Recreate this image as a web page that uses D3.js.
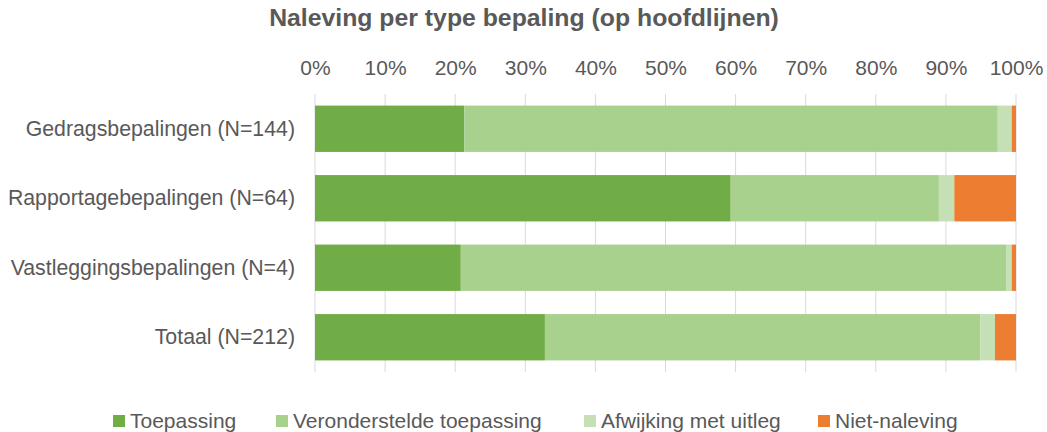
<!DOCTYPE html>
<html lang="nl">
<head>
  <meta charset="UTF-8">
  <title>Naleving per type bepaling</title>
  <script src="https://d3js.org/d3.v7.min.js"></script>
  <style>
    body { margin: 0; padding: 0; background: #fff; }
    svg { font-family: "Liberation Sans", Arial, sans-serif; }
    text { fill: #595959; }
  </style>
</head>
<body>
  <script>
    // Data (percentages)
    const categories = [
      "Gedragsbepalingen (N=144)",
      "Rapportagebepalingen (N=64)",
      "Vastleggingsbepalingen (N=4)",
      "Totaal (N=212)"
    ];
    const seriesNames = ["Toepassing", "Veronderstelde toepassing", "Afwijking met uitleg", "Niet-naleving"];
    const toepassing = [21.3, 59.3, 20.8, 32.8];
    const veronderstelde = [76.1, 29.7, 77.8, 62.1];
    const afwijking = [2.0, 2.2, 0.8, 2.1];
    const nietNaleving = [0.6, 8.8, 0.6, 3.0];
    const colors = ["#70AD47", "#A9D18E", "#C5E0B4", "#ED7D31"];
    const tickValues = [0, 10, 20, 30, 40, 50, 60, 70, 80, 90, 100];

    const width = 1047, height = 432;
    const margin = { top: 94, right: 31, bottom: 60, left: 315 };

    const svg = d3.select("body").append("svg")
      .attr("width", width)
      .attr("height", height);

    // Build rows for stacking
    const rows = categories.map((c, i) => ({
      cat: c,
      [seriesNames[0]]: toepassing[i],
      [seriesNames[1]]: veronderstelde[i],
      [seriesNames[2]]: afwijking[i],
      [seriesNames[3]]: nietNaleving[i]
    }));
    const stacked = d3.stack().keys(seriesNames)(rows);

    const x = d3.scaleLinear().domain([0, 100]).range([margin.left, width - margin.right]);
    const y = d3.scaleBand().domain(categories)
      .range([margin.top, height - margin.bottom])
      .paddingInner(0.333).paddingOuter(0.1667);

    // Title
    svg.append("text")
      .attr("x", 524).attr("y", 26)
      .attr("text-anchor", "middle")
      .style("font-size", "24.8px").style("font-weight", "bold")
      .text("Naleving per type bepaling (op hoofdlijnen)");

    // Gridlines
    svg.append("g")
      .selectAll("line")
      .data(tickValues)
      .join("line")
      .attr("x1", d => x(d)).attr("x2", d => x(d))
      .attr("y1", margin.top).attr("y2", height - margin.bottom)
      .attr("stroke", "#D9D9D9").attr("stroke-width", 1);

    // Top axis labels
    const xAxis = d3.axisTop(x).tickValues(tickValues).tickFormat(d => d + "%").tickSize(0).tickPadding(0);
    const gx = svg.append("g").attr("transform", "translate(0,75)").call(xAxis);
    gx.select(".domain").remove();
    gx.selectAll("text").style("font-size", "21px").attr("fill", "#595959").attr("dy", 0);

    // Bars
    svg.append("g")
      .selectAll("g")
      .data(stacked)
      .join("g")
      .attr("fill", (d, i) => colors[i])
      .selectAll("rect")
      .data(d => d)
      .join("rect")
      .attr("x", d => x(d[0]))
      .attr("y", d => y(d.data.cat))
      .attr("width", d => x(d[1]) - x(d[0]))
      .attr("height", y.bandwidth());

    // Category labels
    const yAxis = d3.axisLeft(y).tickSize(0).tickPadding(20);
    const gy = svg.append("g").attr("transform", `translate(${margin.left},0)`).call(yAxis);
    gy.select(".domain").remove();
    gy.selectAll("text").style("font-size", "21.3px").attr("fill", "#595959");

    // Legend
    const legendX = [113, 276, 584, 818];
    const legend = svg.append("g")
      .selectAll("g")
      .data(seriesNames)
      .join("g")
      .attr("transform", (d, i) => `translate(${legendX[i]},415)`);
    legend.append("rect")
      .attr("width", 12).attr("height", 12)
      .attr("fill", (d, i) => colors[i]);
    legend.append("text")
      .attr("x", 17).attr("y", 13)
      .style("font-size", "21px")
      .text(d => d);
  </script>
</body>
</html>
